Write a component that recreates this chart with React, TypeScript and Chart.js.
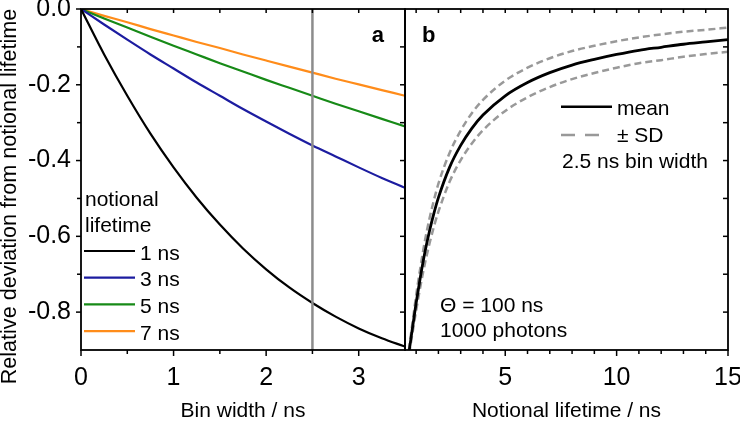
import React, { useEffect, useRef } from 'react';
import { Chart, registerables } from 'chart.js';
Chart.register(...registerables);

const FONT = "'Liberation Sans', Arial, Helvetica, sans-serif";

// ---------- Panel a: deviation vs bin width ----------
const binWidths = [0, 0.25, 0.5, 0.75, 1, 1.25, 1.5, 1.75, 2, 2.25, 2.5, 2.75, 3, 3.25, 3.5];
const dev1ns = [0, -0.12, -0.229, -0.329, -0.418, -0.498, -0.569, -0.632, -0.687, -0.735, -0.776, -0.812, -0.843, -0.869, -0.891];
const dev3ns = [0, -0.041, -0.081, -0.12, -0.157, -0.194, -0.229, -0.264, -0.297, -0.329, -0.36, -0.389, -0.418, -0.446, -0.472];
const dev5ns = [0, -0.025, -0.049, -0.073, -0.097, -0.12, -0.143, -0.165, -0.187, -0.208, -0.229, -0.25, -0.27, -0.29, -0.31];
const dev7ns = [0, -0.018, -0.035, -0.053, -0.07, -0.087, -0.103, -0.12, -0.136, -0.152, -0.168, -0.184, -0.199, -0.214, -0.229];
const lifetimeLabels = ['1 ns', '3 ns', '5 ns', '7 ns'];
const legendTitleA = ['notional', 'lifetime'];
const markerBinWidth = 2.5;

// ---------- Panel b: deviation vs notional lifetime (2.5 ns bins) ----------
const notionalLifetimes = [0.6, 0.65, 0.7, 0.8, 0.9, 1.0, 1.2, 1.4, 1.6, 1.8, 2.0, 2.5, 3, 3.5, 4, 5, 6, 7, 8, 9, 10, 11, 12, 13, 14, 15];
const meanDev = [-0.934, -0.916, -0.897, -0.856, -0.816, -0.776, -0.704, -0.64, -0.586, -0.539, -0.498, -0.418, -0.36, -0.315, -0.28, -0.229, -0.194, -0.168, -0.148, -0.133, -0.12, -0.109, -0.101, -0.093, -0.087, -0.081];
const upperSD = [-0.929, -0.91, -0.889, -0.844, -0.8, -0.756, -0.679, -0.61, -0.553, -0.504, -0.461, -0.38, -0.321, -0.275, -0.24, -0.189, -0.155, -0.13, -0.111, -0.097, -0.085, -0.075, -0.067, -0.06, -0.055, -0.049];
const lowerSD = [-0.939, -0.922, -0.905, -0.868, -0.832, -0.796, -0.729, -0.67, -0.619, -0.574, -0.535, -0.456, -0.399, -0.355, -0.32, -0.269, -0.233, -0.206, -0.185, -0.169, -0.155, -0.143, -0.135, -0.126, -0.119, -0.113];
const legendLabelsB = ['mean', '± SD'];
const noteB = ['2.5 ns bin width'];
const conditionsB = ['Θ = 100 ns', '1000 photons'];

// ---------- Axes ----------
const yMin = -0.9;
const yMax = 0;
const aXMin = 0;
const aXMax = 3.5;
const bXMin = 0.5;
const bXMax = 15;
const yTickValues = [0, -0.2, -0.4, -0.6, -0.8];
const yMinorValues = [-0.1, -0.3, -0.5, -0.7];
const yInnerValues = [-0.1, -0.2, -0.3, -0.4, -0.5, -0.6, -0.7, -0.8];
const aXTickValues = [0, 1, 2, 3];
const aXMinorValues = [0.5, 1.5, 2.5];
const aTopValues = [0.5, 1, 1.5, 2, 2.5, 3];
const bXTickValues = [5, 10, 15];
const bXMinorValues = [1, 2, 3, 4, 6, 7, 8, 9, 11, 12, 13, 14];
const bTopValues = [1, 2, 3, 4, 5, 6, 7, 8, 9, 10, 11, 12, 13, 14];

const yTitle = 'Relative deviation from notional lifetime';
const xTitleA = 'Bin width / ns';
const xTitleB = 'Notional lifetime / ns';

const seriesColors = ['#000000', '#1c1ca0', '#178a17', '#ff8c1a'];
const sdColor = '#999999';
const markerColor = '#8c8c8c';

function pts(xs: number[], ys: number[]) {
  return xs.map((x, i) => ({ x, y: ys[i] }));
}

function lineDs(label: string, data: any[], color: string, width: number, dash: number[] = [], order = 0) {
  return {
    label,
    data,
    showLine: true,
    borderColor: color,
    backgroundColor: color,
    borderWidth: width,
    borderDash: dash,
    pointRadius: 0,
    pointHoverRadius: 0,
    fill: false,
    clip: 0,
    cubicInterpolationMode: 'monotone',
    order,
  };
}

function framePlugin(spec: any) {
  return {
    id: 'frameTicks',
    afterDraw(chart: any) {
      const ctx = chart.ctx;
      const a = chart.chartArea;
      const xs = chart.scales.x;
      const ys = chart.scales.y;
      ctx.save();
      ctx.strokeStyle = '#000';
      ctx.lineWidth = 1.5;
      const seg = (x1: number, y1: number, x2: number, y2: number) => {
        ctx.beginPath();
        ctx.moveTo(x1, y1);
        ctx.lineTo(x2, y2);
        ctx.stroke();
      };
      (spec.bottomMajor || []).forEach((v: number) => { const p = xs.getPixelForValue(v); seg(p, a.bottom, p, a.bottom + 6); });
      (spec.bottomMinor || []).forEach((v: number) => { const p = xs.getPixelForValue(v); seg(p, a.bottom, p, a.bottom + 4); });
      (spec.top || []).forEach((v: number) => { const p = xs.getPixelForValue(v); seg(p, a.top, p, a.top + 4); });
      (spec.leftMajor || []).forEach((v: number) => { const p = ys.getPixelForValue(v); seg(a.left - 5, p, a.left, p); });
      (spec.leftMinor || []).forEach((v: number) => { const p = ys.getPixelForValue(v); seg(a.left - 4, p, a.left, p); });
      (spec.rightInner || []).forEach((v: number) => { const p = ys.getPixelForValue(v); seg(a.right - 5, p, a.right, p); });
      ctx.lineWidth = 1.8;
      ctx.strokeRect(a.left, a.top, a.right - a.left, a.bottom - a.top);
      ctx.restore();
    },
  };
}

const textPluginA = {
  id: 'textA',
  afterDraw(chart: any) {
    const ctx = chart.ctx;
    const a = chart.chartArea;
    ctx.save();
    ctx.fillStyle = '#000';
    // y axis title
    ctx.save();
    ctx.translate(16, 196.5);
    ctx.rotate(-Math.PI / 2);
    ctx.font = `21.6px ${FONT}`;
    ctx.textAlign = 'center';
    ctx.textBaseline = 'alphabetic';
    ctx.fillText(yTitle, 0, 0);
    ctx.restore();
    // panel letter
    ctx.font = `bold 22px ${FONT}`;
    ctx.textAlign = 'right';
    ctx.textBaseline = 'alphabetic';
    ctx.fillText('a', a.right - 21, 42);
    // legend
    ctx.font = `21px ${FONT}`;
    ctx.textAlign = 'left';
    legendTitleA.forEach((t, i) => ctx.fillText(t, a.left + 4, 206 + i * 26));
    lifetimeLabels.forEach((t, i) => {
      const yy = 251 + i * 26.7;
      ctx.strokeStyle = seriesColors[i];
      ctx.lineWidth = 2.2;
      ctx.beginPath();
      ctx.moveTo(a.left + 3, yy);
      ctx.lineTo(a.left + 54, yy);
      ctx.stroke();
      ctx.fillText(t, a.left + 59, yy + 8.5);
    });
    ctx.restore();
  },
};

const textPluginB = {
  id: 'textB',
  afterDraw(chart: any) {
    const ctx = chart.ctx;
    const a = chart.chartArea;
    ctx.save();
    ctx.fillStyle = '#000';
    ctx.font = `bold 22px ${FONT}`;
    ctx.textAlign = 'left';
    ctx.textBaseline = 'alphabetic';
    ctx.fillText('b', a.left + 17, 42);
    ctx.font = `21px ${FONT}`;
    // legend
    ctx.strokeStyle = '#000';
    ctx.lineWidth = 2.6;
    ctx.beginPath();
    ctx.moveTo(561, 106.7);
    ctx.lineTo(612, 106.7);
    ctx.stroke();
    ctx.fillText(legendLabelsB[0], 617, 115);
    ctx.strokeStyle = sdColor;
    ctx.setLineDash([14, 10]);
    ctx.beginPath();
    ctx.moveTo(561, 135);
    ctx.lineTo(599, 135);
    ctx.stroke();
    ctx.setLineDash([]);
    ctx.fillText(legendLabelsB[1], 617, 141.7);
    ctx.fillText(noteB[0], 562, 168.3);
    ctx.fillText(conditionsB[0], 440, 311.7);
    ctx.fillText(conditionsB[1], 440, 337.3);
    ctx.restore();
  },
};

const tickFont = { family: FONT, size: 25 };
const titleFont = { family: FONT, size: 21 };

function xScale(min: number, max: number, ticks: number[], title: string) {
  return {
    type: 'linear',
    position: 'bottom',
    min,
    max,
    afterBuildTicks: (s: any) => { s.ticks = ticks.map((v) => ({ value: v })); },
    afterFit: (s: any) => { s.height = 71; s.paddingLeft = 0; s.paddingRight = 0; },
    grid: { display: false, drawTicks: false },
    border: { display: false },
    ticks: { font: tickFont, color: '#000', padding: 13, maxRotation: 0, autoSkip: false, callback: (v: any) => String(v) },
    title: { display: true, text: title, font: titleFont, color: '#000', padding: { top: 0, bottom: -3 } },
  };
}

export default function App() {
  const refA = useRef<HTMLCanvasElement>(null);
  const refB = useRef<HTMLCanvasElement>(null);

  useEffect(() => {
    const chartA = new Chart(refA.current as HTMLCanvasElement, {
      type: 'scatter',
      data: {
        datasets: [
          lineDs('bin width 2.5 ns', [{ x: markerBinWidth, y: yMin }, { x: markerBinWidth, y: yMax }], markerColor, 2.5, [], -1) as any,
          lineDs(lifetimeLabels[0], pts(binWidths, dev1ns), seriesColors[0], 2.2) as any,
          lineDs(lifetimeLabels[1], pts(binWidths, dev3ns), seriesColors[1], 2.2) as any,
          lineDs(lifetimeLabels[2], pts(binWidths, dev5ns), seriesColors[2], 2.2) as any,
          lineDs(lifetimeLabels[3], pts(binWidths, dev7ns), seriesColors[3], 2.2) as any,
        ],
      },
      options: {
        responsive: false,
        animation: false,
        devicePixelRatio: 1,
        events: [],
        layout: { padding: { left: 0, right: 335, top: 9, bottom: 0 } },
        plugins: { legend: { display: false }, tooltip: { enabled: false } },
        scales: {
          x: xScale(aXMin, aXMax, aXTickValues, xTitleA) as any,
          y: {
            type: 'linear',
            position: 'left',
            min: yMin,
            max: yMax,
            afterBuildTicks: (s: any) => { s.ticks = yTickValues.map((v) => ({ value: v })); },
            afterFit: (s: any) => { s.width = 81; s.paddingTop = 0; s.paddingBottom = 0; },
            grid: { display: false, drawTicks: false },
            border: { display: false },
            ticks: { font: tickFont, color: '#000', padding: 10, autoSkip: false, callback: (v: any) => Number(v).toFixed(1) },
          } as any,
        },
      },
      plugins: [
        framePlugin({ bottomMajor: aXTickValues, bottomMinor: aXMinorValues, top: aTopValues, leftMajor: yTickValues, leftMinor: yMinorValues, rightInner: yInnerValues }),
        textPluginA,
      ],
    } as any);

    const chartB = new Chart(refB.current as HTMLCanvasElement, {
      type: 'scatter',
      data: {
        datasets: [
          lineDs('mean', pts(notionalLifetimes, meanDev), '#000000', 2.8, [], 0) as any,
          lineDs('+SD', pts(notionalLifetimes, upperSD), sdColor, 2.5, [7, 4], 1) as any,
          lineDs('-SD', pts(notionalLifetimes, lowerSD), sdColor, 2.5, [7, 4], 1) as any,
        ],
      },
      options: {
        responsive: false,
        animation: false,
        devicePixelRatio: 1,
        events: [],
        layout: { padding: { left: 405, right: 12, top: 9, bottom: 0 } },
        plugins: { legend: { display: false }, tooltip: { enabled: false } },
        scales: {
          x: xScale(bXMin, bXMax, bXTickValues, xTitleB) as any,
          y: { type: 'linear', display: false, min: yMin, max: yMax } as any,
        },
      },
      plugins: [
        framePlugin({ bottomMajor: bXTickValues, bottomMinor: bXMinorValues, top: bTopValues, rightInner: yInnerValues }),
        textPluginB,
      ],
    } as any);

    return () => {
      chartA.destroy();
      chartB.destroy();
    };
  }, []);

  return (
    <div style={{ position: 'fixed', left: 0, top: 0, width: 740, height: 421, background: '#fff' }}>
      <canvas ref={refA} width={740} height={421} style={{ position: 'absolute', left: 0, top: 0 }} />
      <canvas ref={refB} width={740} height={421} style={{ position: 'absolute', left: 0, top: 0 }} />
    </div>
  );
}
